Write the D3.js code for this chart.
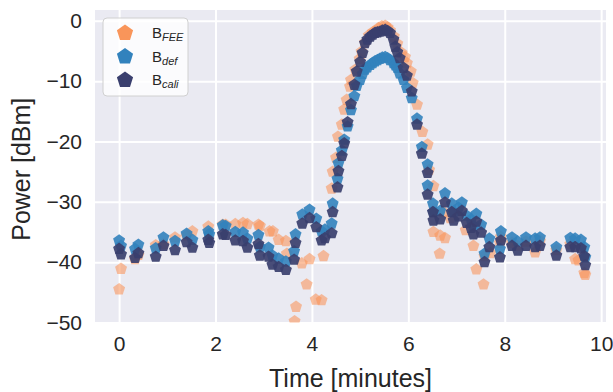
<!DOCTYPE html>
<html>
<head>
<meta charset="utf-8">
<script src="https://cdn.jsdelivr.net/npm/d3@7"></script>
<style>
  body { margin: 0; background: #fff; }
  text { font-family: "Liberation Sans", Arial, sans-serif; fill: #262626; }
</style>
</head>
<body>
<div id="chart"></div>
<script>
const W = 613, H = 392;

// shared sample times for B_def and B_cali (minutes)
const timeDC = [0.00,0.04,0.33,0.40,0.76,0.92,1.16,1.40,1.52,1.85,1.87,2.15,2.21,2.41,2.57,2.66,2.89,2.92,3.10,3.18,3.31,3.46,3.63,3.66,3.80,3.95,4.09,4.20,4.27,4.41,4.43,4.53,4.55,4.62,4.67,4.74,4.81,4.88,4.93,5.00,5.05,5.10,5.15,5.21,5.26,5.31,5.36,5.41,5.46,5.52,5.57,5.62,5.69,5.73,5.77,5.82,5.90,5.97,6.07,6.18,6.28,6.40,6.40,6.51,6.52,6.66,6.76,6.90,6.94,7.04,7.11,7.21,7.30,7.35,7.41,7.51,7.58,7.68,7.90,7.92,8.15,8.27,8.44,8.63,8.73,9.07,9.36,9.46,9.58,9.65,9.67];
const powerDef = [-36.4,-37.3,-37.8,-37.1,-37.7,-35.9,-36.5,-35.3,-36.3,-34.9,-35.4,-33.9,-34.0,-35.0,-35.1,-36.1,-35.5,-37.5,-37.6,-38.9,-39.4,-39.9,-38.2,-35.4,-32.1,-31.3,-32.8,-34.9,-34.6,-33.6,-30.3,-26.2,-23.6,-21.5,-19.7,-17.5,-14.8,-12.5,-10.8,-9.8,-8.8,-8.1,-7.7,-7.3,-7.0,-6.7,-6.5,-6.3,-6.1,-6.0,-6.2,-6.5,-7.0,-7.4,-7.8,-8.7,-9.8,-11.1,-12.8,-16.2,-20.9,-23.8,-27.3,-30.3,-31.7,-31.5,-28.6,-30.3,-31.7,-31.0,-30.1,-32.3,-32.9,-34.0,-32.0,-33.8,-38.6,-36.1,-37.8,-34.9,-35.9,-36.6,-35.9,-36.1,-35.9,-37.5,-36.0,-36.1,-36.3,-37.5,-39.2];
const powerCali = [-37.8,-38.7,-39.3,-38.5,-39.1,-37.3,-38.0,-36.7,-37.6,-36.3,-36.8,-35.4,-35.5,-36.4,-36.5,-37.6,-37.0,-38.9,-39.1,-40.4,-40.8,-41.3,-39.6,-36.8,-33.6,-32.7,-34.2,-36.4,-36.0,-35.2,-31.7,-27.6,-24.9,-22.4,-20.3,-16.8,-13.8,-10.6,-8.4,-6.8,-5.3,-3.7,-3.1,-2.6,-2.3,-2.0,-1.9,-1.8,-1.6,-1.5,-1.7,-2.0,-3.1,-4.3,-5.2,-6.2,-7.8,-9.1,-11.7,-17.2,-22.0,-25.2,-28.8,-31.7,-33.1,-32.9,-30.1,-31.7,-33.1,-32.4,-31.5,-33.5,-34.3,-35.4,-33.3,-35.1,-40.0,-37.5,-39.2,-36.4,-37.3,-38.1,-37.3,-37.5,-37.3,-38.9,-37.5,-37.5,-37.7,-39.0,-40.5];

// B_FEE samples
const timeFee = [0.00,0.04,0.33,0.40,0.76,0.92,1.16,1.40,1.52,1.85,2.15,2.21,2.41,2.57,2.66,2.89,2.92,3.12,3.19,3.31,3.46,3.48,3.64,3.67,3.79,3.89,3.95,4.08,4.20,4.24,4.41,4.43,4.50,4.54,4.62,4.67,4.72,4.79,4.81,4.90,4.99,5.03,5.10,5.18,5.26,5.31,5.38,5.45,5.52,5.57,5.62,5.70,5.77,5.86,5.93,5.97,6.05,6.09,6.18,6.29,6.40,6.43,6.52,6.52,6.65,6.66,6.73,6.76,6.87,7.19,7.35,7.41,7.56,7.58,7.70,7.90,7.92,8.15,8.27,8.44,8.63,8.73,9.07,9.36,9.46,9.53,9.65,9.67];
const powerFee = [-44.5,-41.1,-39.5,-38.8,-37.2,-37.0,-35.9,-35.6,-34.9,-34.1,-33.8,-33.8,-33.7,-33.5,-33.7,-33.8,-34.0,-34.9,-34.9,-36.3,-36.5,-38.6,-49.8,-47.4,-40.2,-43.7,-39.5,-46.2,-46.3,-39.0,-27.8,-25.0,-22.7,-19.2,-17.2,-14.7,-13.1,-10.9,-9.8,-8.1,-6.3,-5.1,-3.6,-2.4,-1.9,-1.7,-1.2,-0.9,-0.8,-1.1,-1.6,-2.6,-3.8,-5.3,-6.0,-7.0,-8.4,-10.3,-13.9,-18.4,-20.5,-24.7,-27.4,-35.0,-38.6,-35.6,-31.7,-36.0,-32.7,-34.7,-37.3,-41.2,-43.7,-39.0,-38.5,-36.8,-35.8,-36.8,-37.3,-36.6,-38.4,-36.5,-38.0,-37.0,-39.5,-39.7,-41.8,-42.1];

const xTicks = [0, 2, 4, 6, 8, 10];
const yTicks = [0, -10, -20, -30, -40, -50];

const series = [
  { name: "FEE", t: timeFee, p: powerFee, color: "#f9955a", alpha: 0.58 },
  { name: "def", t: timeDC, p: powerDef, color: "#3282bd", alpha: 0.9 },
  { name: "cali", t: timeDC, p: powerCali, color: "#3a3f6e", alpha: 0.92 },
];

const m = { left: 95, right: 606, top: 10, bottom: 322.5 };

const x = d3.scaleLinear().domain([-0.5, 10.1]).range([m.left, m.right]);
const y = d3.scaleLinear().domain([-50, 1.8]).range([m.bottom, m.top]);

const pentagon = r => {
  const pts = d3.range(5).map(k => {
    const a = -Math.PI / 2 + k * 2 * Math.PI / 5;
    return [r * Math.cos(a), r * Math.sin(a)];
  });
  return "M" + pts.map(p => p.join(",")).join("L") + "Z";
};

const svg = d3.select("#chart").append("svg")
  .attr("width", W)
  .attr("height", H);

svg.append("clipPath").attr("id", "clip")
  .append("rect")
  .attr("x", m.left).attr("y", m.top)
  .attr("width", m.right - m.left).attr("height", m.bottom - m.top);

svg.append("rect")
  .attr("x", m.left).attr("y", m.top)
  .attr("width", m.right - m.left).attr("height", m.bottom - m.top)
  .attr("fill", "#eaeaf2");

// grid
svg.append("g")
  .attr("transform", `translate(0,${m.bottom})`)
  .call(d3.axisBottom(x).tickValues(xTicks).tickSize(-(m.bottom - m.top)).tickPadding(14))
  .call(g => g.select(".domain").remove())
  .call(g => g.selectAll("line").attr("stroke", "#fff").attr("stroke-width", 2))
  .call(g => g.selectAll("text").attr("font-size", 21).attr("fill", "#262626"));

svg.append("g")
  .attr("transform", `translate(${m.left},0)`)
  .call(d3.axisLeft(y).tickValues(yTicks).tickSize(-(m.right - m.left)).tickPadding(13))
  .call(g => g.select(".domain").remove())
  .call(g => g.selectAll("line").attr("stroke", "#fff").attr("stroke-width", 2))
  .call(g => g.selectAll("text").attr("font-size", 21).attr("fill", "#262626"));

svg.selectAll(".tick text").attr("font-family", '"Liberation Sans", Arial, sans-serif');

// points
const plot = svg.append("g").attr("clip-path", "url(#clip)");
series.forEach(s => {
  plot.append("g").selectAll("path")
    .data(s.t.map((t, i) => ({ t, p: s.p[i] })))
    .enter()
    .append("path")
    .attr("d", pentagon(6.3))
    .attr("transform", d => `translate(${x(d.t)},${y(d.p)})`)
    .attr("fill", s.color)
    .attr("fill-opacity", s.alpha);
});

// axis labels
svg.append("text")
  .attr("x", (m.left + m.right) / 2).attr("y", 387)
  .attr("text-anchor", "middle").attr("font-size", 25)
  .text("Time [minutes]");

svg.append("text")
  .attr("transform", `translate(30,${(m.top + m.bottom) / 2 + 3}) rotate(-90)`)
  .attr("text-anchor", "middle").attr("font-size", 25)
  .text("Power [dBm]");

// legend
const lg = svg.append("g").attr("transform", "translate(103,18)");
lg.append("rect")
  .attr("width", 85).attr("height", 78).attr("rx", 4)
  .attr("fill", "#fff").attr("fill-opacity", 0.8)
  .attr("stroke", "#d0d0d0").attr("stroke-width", 1);
series.forEach((s, i) => {
  const row = lg.append("g").attr("transform", `translate(0,${14 + i * 23.5})`);
  row.append("path").attr("d", pentagon(8.5))
    .attr("transform", "translate(22,1)")
    .attr("fill", s.color);
  const tx = row.append("text").attr("x", 49).attr("y", 6).attr("font-size", 15);
  tx.append("tspan").text("B");
  tx.append("tspan").attr("dy", 3).attr("font-size", 11).attr("font-style", "italic").text(s.name);
});
</script>
</body>
</html>
